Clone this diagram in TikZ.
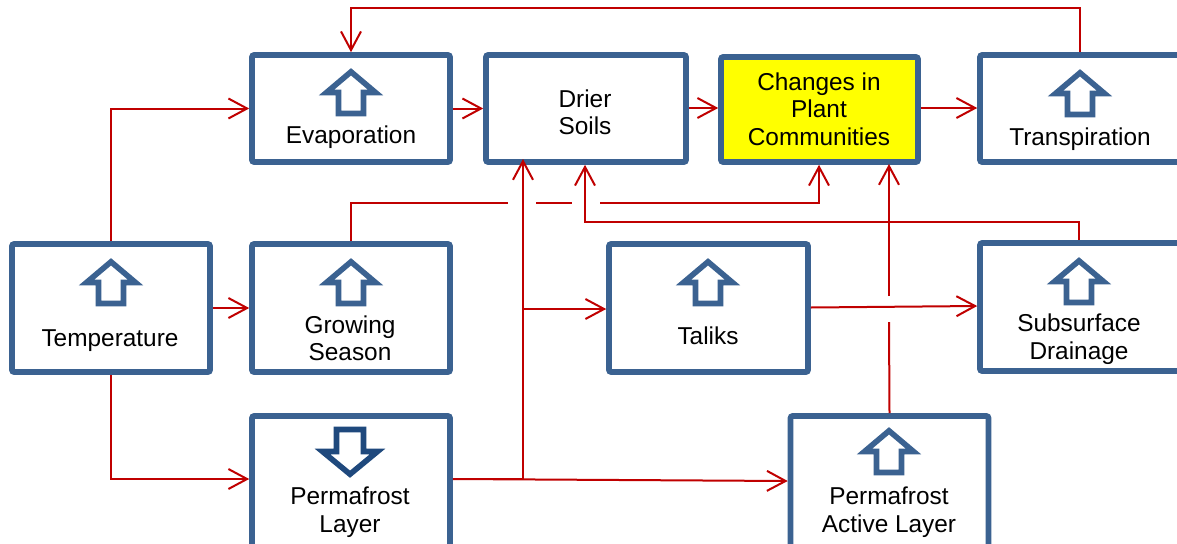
\documentclass[tikz,border=0pt]{standalone}
\usepackage{fontspec}
\setmainfont{Liberation Sans}
\usetikzlibrary{arrows.meta}
\definecolor{boxblue}{HTML}{3B6291}
\definecolor{darkblue}{HTML}{1F497D}
\definecolor{linkred}{HTML}{C00000}
\definecolor{hiyellow}{HTML}{FFFF00}
\tikzset{
  x=0.75pt,y=-0.75pt,
  boxn/.style 2 args={draw=boxblue,line width=4.2pt,rounded corners=1.5pt,fill=white,
    minimum width=#1*0.75pt,minimum height=#2*0.75pt,inner sep=0pt},
  lbl/.style={font=\fontsize{18.3}{20.6}\selectfont,align=center,text=black,inner sep=0pt},
  link/.style={draw=linkred,line width=1.5pt,line join=miter,
    -{Straight Barb[length=14pt,width=15pt,line width=1.5pt]}},
  plain/.style={draw=linkred,line width=1.5pt,line join=miter},
  pics/uparrow/.style={code={
    \draw[draw=boxblue,line width=4.2pt,miter limit=10]
      (0,3.8)--(24.5,24.5)--(12.5,24.5)--(12.5,45.5)--(-12.5,45.5)--(-12.5,24.5)--(-24.5,24.5)--cycle;}},
  pics/downarrow/.style={code={
    \draw[draw=darkblue,line width=4.2pt,miter limit=10]
      (0,-3.8)--(27.5,-26.5)--(13.5,-26.5)--(13.5,-48.5)--(-13.5,-48.5)--(-13.5,-26.5)--(-27.5,-26.5)--cycle;}},
}
\begin{document}
\begin{tikzpicture}
\useasboundingbox (0,0) rectangle (1177,543);
% boxes
\node[boxn={198}{107}] (evap) at (351,108.5) {};
\node[boxn={200}{107}] (drier) at (586,108.5) {};
\node[boxn={197}{105},fill=hiyellow] (plant) at (819.5,109.5) {};
\node[boxn={200}{107}] (trans) at (1080,108.5) {};
\node[boxn={198}{128}] (temp) at (111,308) {};
\node[boxn={198}{128}] (grow) at (351,308) {};
\node[boxn={199}{128}] (taliks) at (708.5,308) {};
\node[boxn={200}{128}] (drain) at (1080,307) {};
\node[boxn={198}{134}] (perm) at (351,483) {};
\node[boxn={198}{134}] (active) at (889.5,483) {};
% block arrows
\pic at (351,68) {uparrow};
\pic at (1080,69) {uparrow};
\pic at (111,258) {uparrow};
\pic at (351,258) {uparrow};
\pic at (708,258) {uparrow};
\pic at (1079,257) {uparrow};
\pic at (889,427) {uparrow};
\pic at (350,478) {downarrow};
% labels
\node[lbl] (evapt) at (351,137) {Evaporation};
\node[lbl] (driert) at (585,112.5) {Drier\\Soils};
\node[lbl] (plantt) at (819,109) {Changes in\\Plant\\Communities};
\node[lbl] (transt) at (1080,139) {Transpiration};
\node[lbl] (tempt) at (110,341) {Temperature};
\node[lbl] (growt) at (350,338.5) {Growing\\Season};
\node[lbl] (talikst) at (708,336) {Taliks};
\node[lbl] (draint) at (1079,339) {Subsurface\\Drainage};
\node[lbl] (permt) at (350,512) {Permafrost\\Layer};
\node[lbl] (activet) at (889,512) {Permafrost\\Active Layer};
% routing coordinates
\coordinate (topy) at (0,8);
\coordinate (draily) at (0,222);
\coordinate (drierx) at (585,0);
\coordinate (plantx) at (819,0);
\coordinate (drainx) at (1079,0);
\coordinate (upx) at (523,0);
\coordinate (rowy) at (0,108);
\coordinate (permy) at (0,479);
\coordinate (permout) at (perm.east |- permy);
\coordinate (permin) at (perm.west |- permy);
\coordinate (jct) at (upx |- permy);
\coordinate (talikjct) at (523,309);
\coordinate (gapa) at (508,203);
\coordinate (gapb) at (536,203);
\coordinate (gapc) at (572,203);
\coordinate (gapd) at (600,203);
\coordinate (vgapa) at (889,322);
\coordinate (vgapb) at (889,296);
\coordinate (talikout) at (taliks.east |- 0,307.5);
\coordinate (drainin) at (drain.west |- 0,306);
\coordinate (activein) at (active.west |- 0,481);
\coordinate (drieruptip) at (523,159);
\coordinate (plantuptip) at (889,164);
% connectors
\draw[link] (trans.north) |- (topy -| evap.north) -- (evap.north);
\draw[link] (temp.north) |- (evap.west);
\draw[link] (evap.east) -- (drier.west);
\draw[link] (drier.east |- rowy) -- (plant.west |- rowy);
\draw[link] (plant.east |- rowy) -- (trans.west |- rowy);
\draw[link] (temp.east) -- (grow.west);
\draw[link] (temp.south) |- (permin);
\draw[plain] (grow.north) |- (gapa);
\draw[plain] (gapb) -- (gapc);
\draw[link] (gapd) -| (plant.south -| plantx);
\draw[link] (drain.north -| drainx) |- (draily -| drierx) -- (drier.south -| drierx);
\draw[plain] (active.north) -- (vgapa);
\draw[link] (vgapb) -- (plantuptip);
\draw[link] (talikout) -- (drainin);
\draw[plain] (permout) -- (jct);
\draw[link] (jct) -- (drieruptip);
\draw[link] (talikjct) -- (taliks.west |- talikjct);
\draw[link] (permout) -- (activein);
\end{tikzpicture}
\end{document}
